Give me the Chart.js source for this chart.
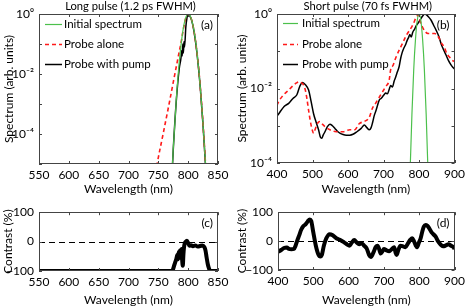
<!DOCTYPE html>
<html>
<head>
<meta charset="utf-8">
<script src="https://cdn.jsdelivr.net/npm/chart.js@4/dist/chart.umd.min.js"></script>
<style>
  body { margin: 0; background: #fff; width: 469px; height: 308px; position: relative; overflow: hidden; }
  .cell { position: absolute; }
</style>
</head>
<body>
<div class="cell" style="left:0;top:0;width:234px;height:200px"><canvas id="chartA"></canvas></div>
<div class="cell" style="left:234px;top:0;width:235px;height:200px"><canvas id="chartB"></canvas></div>
<div class="cell" style="left:0;top:200px;width:234px;height:108px"><canvas id="chartC"></canvas></div>
<div class="cell" style="left:234px;top:200px;width:235px;height:108px"><canvas id="chartD"></canvas></div>
<script>
// ---- panel (a): long pulse spectra
const aInitWl  = [765, 770, 775, 780, 785, 790, 795, 800, 805, 810, 815, 820, 825, 830, 835];
const aInitVal = [1.6e-9, 3.3e-7, 3.2e-5, 1.3e-3, 0.024, 0.19, 0.66, 1, 0.71, 0.26, 0.047, 0.0044, 2.0e-4, 4.9e-6, 6e-8];
const aProbeWl  = [740, 748, 758, 768, 777, 785, 789, 791, 794, 797, 800, 805, 810, 815, 820, 825, 830, 835];
const aProbeVal = [1e-6, 1e-5, 1e-4, 1e-3, 8.5e-3, 0.055, 0.14, 0.25, 0.5, 0.85, 1, 0.71, 0.26, 0.047, 0.0044, 2.0e-4, 4.9e-6, 6e-8];
const aPumpWl  = [765, 770, 775, 780, 785, 788, 789, 790, 791, 792, 793, 794, 796, 798, 800, 803, 806, 810, 815, 820, 825, 830, 835];
const aPumpVal = [1.5e-9, 3e-7, 3e-5, 1.2e-3, 0.015, 0.035, 0.06, 0.04, 0.1, 0.05, 0.12, 0.08, 0.35, 0.75, 1, 0.85, 0.6, 0.25, 0.045, 0.0042, 1.9e-4, 4.5e-6, 5e-8];

// ---- panel (b): short pulse spectra
const bInitWl  = [770, 775, 780, 785, 790, 795, 800, 805, 810, 815, 820, 825, 830];
const bInitVal = [1e-6, 6.9e-5, 2.1e-3, 0.032, 0.21, 0.68, 1, 0.68, 0.21, 0.032, 2.1e-3, 6.9e-5, 1e-6];
const bProbeWl  = [400, 405, 419, 433, 447, 455, 461, 468, 475, 480, 484, 489, 494, 499, 503, 508, 512, 517, 521, 528, 535, 549, 567, 586, 596, 605, 619, 632, 646, 660, 669, 676, 683, 690, 697, 706, 716, 720, 727, 734, 744, 753, 762, 771, 780, 786, 790, 795, 800, 804, 811, 817, 825, 836, 844, 850, 857, 864, 871, 878, 885, 892, 900];
const bProbeVal = [3.5e-3, 4.5e-3, 6.8e-3, 9.1e-3, 0.0123, 0.0141, 0.0151, 0.0145, 0.0123, 8.9e-3, 5.5e-3, 2.6e-3, 1.3e-3, 7.9e-4, 6.3e-4, 8.3e-4, 1.05e-3, 1.26e-3, 1.3e-3, 1.1e-3, 9.5e-4, 7.8e-4, 6.9e-4, 6.9e-4, 7.4e-4, 7.8e-4, 7.8e-4, 1.15e-3, 1.3e-3, 1.7e-3, 3.0e-3, 3.8e-3, 4.9e-3, 6.3e-3, 8.1e-3, 0.0112, 0.017, 0.032, 0.042, 0.065, 0.107, 0.16, 0.245, 0.34, 0.46, 0.6, 0.76, 0.89, 0.93, 0.6, 0.42, 0.34, 0.30, 0.30, 0.30, 0.275, 0.22, 0.16, 0.13, 0.087, 0.071, 0.059, 0.052];
const bPumpWl  = [400, 405, 420, 433, 445, 456, 465, 472, 480, 489, 496, 503, 510, 517, 522, 526, 530, 535, 542, 549, 556, 563, 570, 577, 586, 595, 605, 614, 625, 637, 646, 653, 660, 665, 669, 674, 679, 684, 688, 693, 697, 702, 706, 711, 716, 720, 725, 730, 734, 739, 744, 748, 752, 757, 762, 766, 771, 774, 778, 782, 788, 793, 799, 804, 808, 812, 816, 821, 827, 834, 841, 848, 855, 862, 869, 876, 883, 890, 895, 900];
const bPumpVal = [1.8e-3, 2.1e-3, 3.3e-3, 4.0e-3, 5.4e-3, 6.8e-3, 0.012, 0.0145, 0.0126, 9.1e-3, 4.5e-3, 2.1e-3, 1.26e-3, 7.8e-4, 5.0e-4, 4.6e-4, 5.6e-4, 6.9e-4, 9.5e-4, 1.1e-3, 1.0e-3, 8.5e-4, 7.1e-4, 6.3e-4, 5.8e-4, 5.6e-4, 5.6e-4, 5.9e-4, 6.9e-4, 8.5e-4, 1.05e-3, 8.9e-4, 7.8e-4, 8.9e-4, 1.2e-3, 1.9e-3, 2.6e-3, 3.8e-3, 4.9e-3, 5.4e-3, 6.0e-3, 6.9e-3, 7.6e-3, 7.2e-3, 9.5e-3, 0.012, 0.011, 0.016, 0.02, 0.028, 0.039, 0.063, 0.089, 0.12, 0.15, 0.19, 0.24, 0.28, 0.24, 0.32, 0.40, 0.50, 0.60, 0.72, 0.83, 0.93, 1.0, 0.95, 0.83, 0.68, 0.50, 0.37, 0.26, 0.16, 0.11, 0.079, 0.056, 0.043, 0.037, 0.033];

// ---- panel (c): contrast, long pulse
const cWl  = [550, 770, 774, 776, 778, 780, 782, 783, 784, 785, 786, 787, 788, 789, 790, 791, 792, 793, 794, 796, 798, 800, 802, 805, 808, 812, 816, 820, 824, 827, 829, 831, 833, 835, 837, 839, 850];
const cVal = [-100, -100, -97, -85, -72, -60, -45, -60, -35, -50, -30, -55, -40, -25, -65, -82, -45, -20, -8, 0, 3, -5, -14, -12, -16, -13, -17, -15, -13, -18, -30, -55, -78, -92, -100, -100, -100];

// ---- panel (d): contrast, short pulse
const dWl  = [400, 410, 417, 425, 431, 438, 445, 450, 454, 460, 466, 472, 478, 484, 490, 494, 500, 507, 514, 520, 524, 530, 537, 546, 555, 565, 575, 588, 596, 602, 609, 616, 623, 630, 637, 644, 651, 658, 663, 670, 677, 682, 687, 691, 696, 700, 707, 715, 722, 729, 733, 736, 741, 747, 754, 761, 768, 775, 780, 785, 790, 794, 799, 804, 809, 813, 818, 823, 828, 835, 846, 853, 860, 867, 874, 883, 890, 897, 900];
const dVal = [-37, -30, -24, -22, -27, -28, -27, -15, 0, 20, 40, 52, 58, 68, 75, 70, 30, -15, -45, -53, -48, -15, 10, 24, 20, 10, 5, -5, -12, -16, -5, 4, -5, -11, -8, -16, -25, -48, -55, -40, -20, -16, -30, -43, -35, -27, -32, -35, -28, -21, -40, -48, -30, -16, -18, -21, -8, 5, 10, 0, -15, -21, -5, 10, 35, 50, 56, 53, 45, 30, 16, 0, -11, -18, -16, -11, -16, -21, -27];

// ---- ticks
const longXTicks = [550, 600, 650, 700, 750, 800, 850];
const shortXTicks = [400, 500, 600, 700, 800, 900];
const logYTicks = [1e-4, 1e-2, 1];
const contrastYTicks = [-100, 0, 100];

const FONT = 'Lato, "DejaVu Sans", sans-serif';
Chart.defaults.font.family = FONT;
Chart.defaults.font.size = 12;
Chart.defaults.color = '#000';

const pts = (xs, ys) => xs.map((x, i) => ({x: x, y: ys[i]}));
const sup = {'0': '⁰', '-': '⁻', '1': '¹', '2': '²', '3': '³', '4': '⁴', '5': '⁵'};
function logLabel(v) {
  const e = String(Math.round(Math.log10(v)));
  return '10' + e.split('').map(c => sup[c]).join('');
}
function pctLabel(v) { return v < 0 ? '\u2212' + Math.abs(v) : String(v); }

// box round the plot, inward ticks, dashed zero line, panel tag, heading
const frame = {
  id: 'frame',
  beforeDatasetsDraw(chart, args, opts) {
    if (!opts.zero) return;
    const {ctx, chartArea: a, scales: {y}} = chart;
    const py = Math.round(y.getPixelForValue(0)) + 0.5;
    ctx.save();
    ctx.strokeStyle = '#000'; ctx.lineWidth = 1; ctx.setLineDash([6, 4]);
    ctx.beginPath(); ctx.moveTo(a.left, py); ctx.lineTo(a.right, py); ctx.stroke();
    ctx.restore();
  },
  afterDraw(chart, args, opts) {
    const {ctx, chartArea: a, scales: {x, y}} = chart;
    ctx.save();
    ctx.strokeStyle = '#444'; ctx.lineWidth = 1;
    ctx.strokeRect(Math.round(a.left) + 0.5, Math.round(a.top) + 0.5, Math.round(a.width) - 1, Math.round(a.height) - 1);
    ctx.beginPath();
    x.ticks.forEach(t => {
      const px = Math.round(x.getPixelForValue(t.value)) + 0.5;
      ctx.moveTo(px, a.bottom); ctx.lineTo(px, a.bottom - 3);
      ctx.moveTo(px, a.top); ctx.lineTo(px, a.top + 3);
    });
    (opts.yMarks || y.ticks.map(t => t.value)).forEach(v => {
      const py = Math.round(y.getPixelForValue(v)) + 0.5;
      ctx.moveTo(a.left, py); ctx.lineTo(a.left + 3, py);
      ctx.moveTo(a.right, py); ctx.lineTo(a.right - 3, py);
    });
    ctx.stroke();
    ctx.fillStyle = '#000';
    ctx.font = '12px ' + FONT;
    ctx.textAlign = 'right'; ctx.textBaseline = 'middle';
    ctx.fillText(opts.tag, a.right - 5, a.top + 11);
    if (opts.heading) {
      ctx.font = '11.2px ' + FONT;
      ctx.textAlign = 'center';
      ctx.fillText(opts.heading, (a.left + a.right) / 2 + 2, a.top - 8);
    }
    ctx.restore();
  }
};

// legend drawn inside the plot, top left
const inlineLegend = {
  id: 'inlineLegend',
  afterDatasetsDraw(chart, args, opts) {
    if (!opts.show) return;
    const {ctx, chartArea: a} = chart;
    ctx.save();
    ctx.font = '11.5px ' + FONT; ctx.textBaseline = 'middle'; ctx.fillStyle = '#000';
    chart.data.datasets.forEach((ds, i) => {
      const y = Math.round(a.top + opts.first + i * opts.step) + 0.5;
      ctx.strokeStyle = ds.borderColor; ctx.lineWidth = ds.borderWidth;
      ctx.setLineDash(ds.borderDash || []);
      ctx.beginPath(); ctx.moveTo(a.left + opts.lx, y); ctx.lineTo(a.left + opts.lx + opts.len, y); ctx.stroke();
      ctx.fillText(ds.label, a.left + opts.tx, y);
    });
    ctx.restore();
  }
};

function spectra(init, probe, pump) {
  return [
    {label: 'Initial spectrum', data: init, borderColor: '#4cc04c', borderWidth: 1.2},
    {label: 'Probe alone', data: probe, borderColor: '#ff1a1a', borderWidth: 1.6, borderDash: [4, 3]},
    {label: 'Probe with pump', data: pump, borderColor: '#000', borderWidth: 1.5}
  ];
}

function makeChart(id, o) {
  return new Chart(document.getElementById(id), {
    type: 'line',
    data: {datasets: o.sets},
    options: {
      responsive: true, maintainAspectRatio: false, animation: false,
      layout: {padding: o.pad},
      elements: {point: {radius: 0}, line: {cubicInterpolationMode: 'monotone'}},
      plugins: {
        legend: {display: false},
        tooltip: {enabled: false},
        title: {display: false},
        frame: {tag: o.tag, zero: o.zero, yMarks: o.yMarks, heading: o.title},
        inlineLegend: o.legend || {show: false}
      },
      scales: {
        x: {
          type: 'linear', min: o.xTicks[0], max: o.xTicks[o.xTicks.length - 1],
          afterBuildTicks: s => { s.ticks = o.xTicks.map(v => ({value: v})); },
          afterFit: s => { s.height = o.xH; },
          grid: {display: false, drawTicks: false}, border: {display: false},
          ticks: {padding: 4, maxRotation: 0, autoSkip: false, font: {size: 12}},
          title: {display: true, text: 'Wavelength (nm)', font: {size: 12}, padding: {top: 0, bottom: o.xTitlePad}}
        },
        y: {
          type: o.yType, min: o.yMin, max: o.yMax,
          afterBuildTicks: s => { s.ticks = o.yTicks.map(v => ({value: v})); },
          afterFit: s => { s.width = o.yW; },
          grid: {display: false, drawTicks: false}, border: {display: false},
          ticks: {padding: 5, autoSkip: false, font: {size: 12}, callback: o.yLabel},
          title: {display: true, text: o.yTitle, font: {size: 12}, padding: {top: o.yTitlePad, bottom: 0}}
        }
      }
    },
    plugins: [frame, inlineLegend]
  });
}

const decadeMarks = [1e-5, 1e-4, 1e-3, 1e-2, 1e-1, 1];

makeChart('chartA', {
  sets: spectra(pts(aInitWl, aInitVal), pts(aProbeWl, aProbeVal), pts(aPumpWl, aPumpVal)),
  title: 'Long pulse (1.2 ps FWHM)', tag: '(a)',
  pad: {left: 0, right: 16, top: 14, bottom: 0},
  xTicks: longXTicks, xH: 36, xTitlePad: 4,
  yType: 'logarithmic', yMin: 1e-5, yMax: 1, yTicks: logYTicks, yLabel: logLabel, yMarks: decadeMarks,
  yW: 39, yTitle: 'Spectrum (arb. units)', yTitlePad: 2,
  legend: {show: true, first: 10, step: 20, lx: 6, len: 17, tx: 25}
});

makeChart('chartB', {
  sets: spectra(pts(bInitWl, bInitVal), pts(bProbeWl, bProbeVal), pts(bPumpWl, bPumpVal)),
  title: 'Short pulse (70 fs FWHM)', tag: '(b)',
  pad: {left: 0, right: 12, top: 14, bottom: 0},
  xTicks: shortXTicks, xH: 37, xTitlePad: 4,
  yType: 'logarithmic', yMin: 1e-4, yMax: 1, yTicks: logYTicks, yLabel: logLabel, yMarks: decadeMarks.slice(1),
  yW: 43, yTitle: 'Spectrum (arb. units)', yTitlePad: 1,
  legend: {show: true, first: 9, step: 20.5, lx: 6, len: 15, tx: 25}
});

makeChart('chartC', {
  sets: [{label: 'Contrast', data: pts(cWl, cVal), borderColor: '#000', borderWidth: 4}],
  tag: '(c)', zero: true,
  pad: {left: 0, right: 16, top: 8, bottom: 0},
  xTicks: longXTicks, xH: 37, xTitlePad: 1,
  yType: 'linear', yMin: -100, yMax: 100, yTicks: contrastYTicks, yLabel: pctLabel,
  yW: 39, yTitle: 'Contrast (%)', yTitlePad: 1
});

makeChart('chartD', {
  sets: [{label: 'Contrast', data: pts(dWl, dVal), borderColor: '#000', borderWidth: 4}],
  tag: '(d)', zero: true,
  pad: {left: 0, right: 13, top: 8, bottom: 0},
  xTicks: shortXTicks, xH: 38, xTitlePad: 1,
  yType: 'linear', yMin: -100, yMax: 100, yTicks: contrastYTicks, yLabel: pctLabel,
  yW: 44, yTitle: 'Contrast (%)', yTitlePad: 1
});
</script>
</body>
</html>
